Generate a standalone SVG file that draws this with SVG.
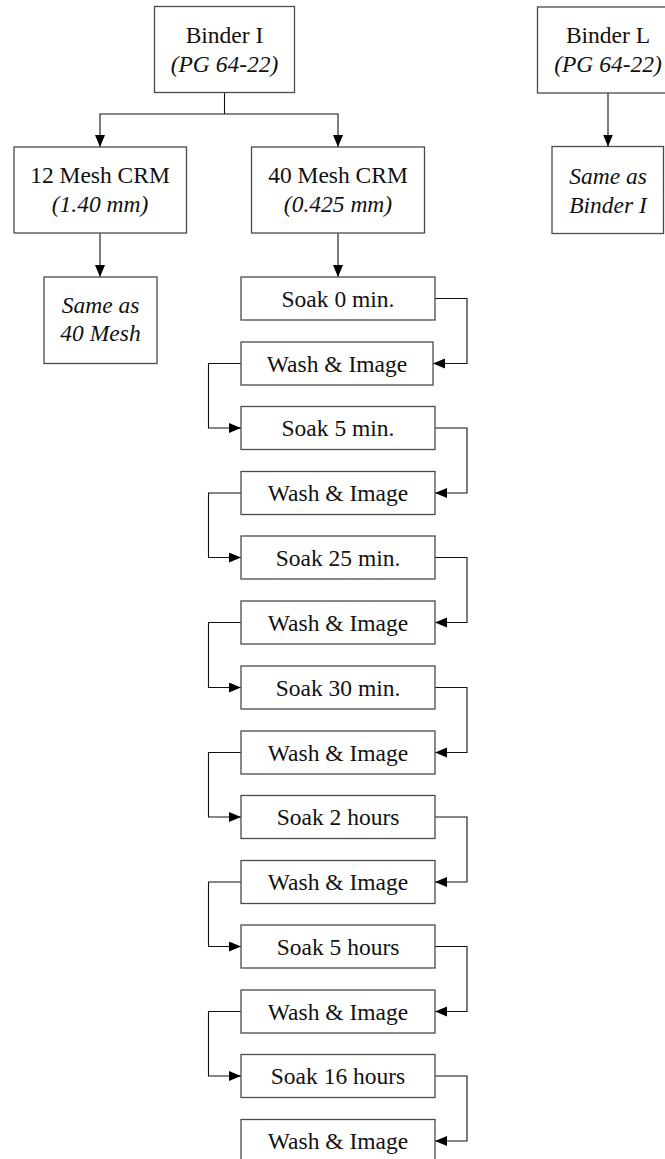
<svg xmlns="http://www.w3.org/2000/svg" width="665" height="1159" viewBox="0 0 665 1159">
<style>
.box{fill:#fff;stroke:#4a4a4a;stroke-width:1.3}
text{font-family:'Liberation Serif','Times New Roman',Times,serif;font-size:23.5px;fill:#111;text-anchor:middle}
.i{font-style:italic}
.c{fill:none;stroke:#111;stroke-width:1.1}
</style>
<defs>
<marker id="ah" markerUnits="userSpaceOnUse" markerWidth="13" markerHeight="11" refX="12" refY="5" orient="auto">
<path d="M0,0 L12,5 L0,10 z" fill="#000"/>
</marker>
</defs>
<rect width="665" height="1159" fill="#fff"/>
<g id="connectors">
<path class="c" d="M224.5,93 V114"/>
<path class="c" d="M224.5,114 H100 V147" marker-end="url(#ah)"/>
<path class="c" d="M224.5,114 H338 V147" marker-end="url(#ah)"/>
<path class="c" d="M608,93 V146.5" marker-end="url(#ah)"/>
<path class="c" d="M100,233 V277" marker-end="url(#ah)"/>
<path class="c" d="M338,233 V277" marker-end="url(#ah)"/>
<path class="c" d="M435,298.5 H467 V363.5 H433" marker-end="url(#ah)"/>
<path class="c" d="M241,363.5 H208.5 V428 H241" marker-end="url(#ah)"/>
<path class="c" d="M435,428 H467 V493 H435" marker-end="url(#ah)"/>
<path class="c" d="M241,493 H208.5 V557.5 H241" marker-end="url(#ah)"/>
<path class="c" d="M435,557.5 H467 V622.5 H435" marker-end="url(#ah)"/>
<path class="c" d="M241,622.5 H208.5 V687.5 H241" marker-end="url(#ah)"/>
<path class="c" d="M435,687.5 H467 V752.5 H435" marker-end="url(#ah)"/>
<path class="c" d="M241,752.5 H208.5 V817 H241" marker-end="url(#ah)"/>
<path class="c" d="M435,817 H467 V882 H435" marker-end="url(#ah)"/>
<path class="c" d="M241,882 H208.5 V946.5 H241" marker-end="url(#ah)"/>
<path class="c" d="M435,946.5 H467 V1011.5 H435" marker-end="url(#ah)"/>
<path class="c" d="M241,1011.5 H208.5 V1076 H241" marker-end="url(#ah)"/>
<path class="c" d="M435,1076 H467 V1141 H435" marker-end="url(#ah)"/>
</g>
<g id="binderI"><rect class="box" x="154.5" y="6.5" width="140" height="86"/>
<text x="224.5" y="43">Binder I</text><text class="i" x="224.5" y="72">(PG 64-22)</text></g>
<g id="binderL"><rect class="box" x="537.5" y="7" width="140" height="86"/>
<text x="608" y="43">Binder L</text><text class="i" x="608" y="72">(PG 64-22)</text></g>
<g id="mesh12"><rect class="box" x="14" y="147" width="172.5" height="86"/>
<text x="100" y="183">12 Mesh CRM</text><text class="i" x="100" y="212">(1.40 mm)</text></g>
<g id="mesh40"><rect class="box" x="251.5" y="147" width="173" height="86"/>
<text x="338" y="183">40 Mesh CRM</text><text class="i" x="338" y="212">(0.425 mm)</text></g>
<g id="same40"><rect class="box" x="44" y="277" width="113" height="86.5"/>
<text class="i" x="100.5" y="313">Same as</text><text class="i" x="100.5" y="341">40 Mesh</text></g>
<g id="sameI"><rect class="box" x="552" y="146.5" width="111.5" height="87"/>
<text class="i" x="608" y="184">Same as</text><text class="i" x="608" y="213">Binder I</text></g>
<g id="soak0"><rect class="box" x="241" y="277" width="194" height="43"/><text x="338" y="306.5">Soak 0 min.</text></g>
<g id="wash1"><rect class="box" x="241" y="342" width="192" height="43"/><text x="337" y="371.5">Wash &amp; Image</text></g>
<g id="soak5m"><rect class="box" x="241" y="406.5" width="194" height="43"/><text x="338" y="436">Soak 5 min.</text></g>
<g id="wash2"><rect class="box" x="241" y="471.5" width="194" height="43"/><text x="338" y="501">Wash &amp; Image</text></g>
<g id="soak25"><rect class="box" x="241" y="536" width="194" height="43"/><text x="338" y="565.5">Soak 25 min.</text></g>
<g id="wash3"><rect class="box" x="241" y="601" width="194" height="43"/><text x="338" y="630.5">Wash &amp; Image</text></g>
<g id="soak30"><rect class="box" x="241" y="666" width="194" height="43"/><text x="338" y="695.5">Soak 30 min.</text></g>
<g id="wash4"><rect class="box" x="241" y="731" width="194" height="43"/><text x="338" y="760.5">Wash &amp; Image</text></g>
<g id="soak2h"><rect class="box" x="241" y="795.5" width="194" height="43"/><text x="338" y="825">Soak 2 hours</text></g>
<g id="wash5"><rect class="box" x="241" y="860.5" width="194" height="43"/><text x="338" y="890">Wash &amp; Image</text></g>
<g id="soak5h"><rect class="box" x="241" y="925" width="194" height="43"/><text x="338" y="954.5">Soak 5 hours</text></g>
<g id="wash6"><rect class="box" x="241" y="990" width="194" height="43"/><text x="338" y="1019.5">Wash &amp; Image</text></g>
<g id="soak16h"><rect class="box" x="241" y="1054.5" width="194" height="43"/><text x="338" y="1084">Soak 16 hours</text></g>
<g id="wash7"><rect class="box" x="241" y="1119.5" width="194" height="43"/><text x="338" y="1149">Wash &amp; Image</text></g>
</svg>
